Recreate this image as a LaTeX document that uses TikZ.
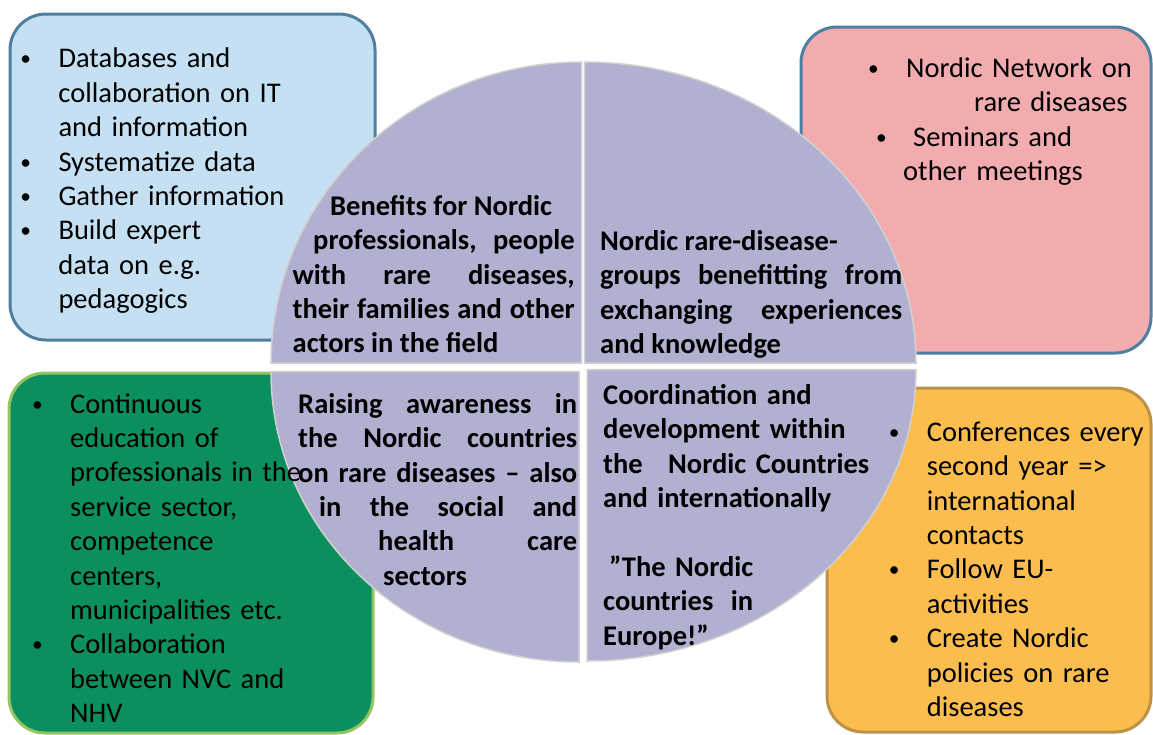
\documentclass[tikz,border=0pt]{standalone}
\usepackage{fontspec}
\setmainfont{Carlito}
\usepackage{graphicx}
\usepackage{xcolor}
\definecolor{nord-blau}{HTML}{C5E0F2}
\definecolor{nord-blaurand}{HTML}{4F7FA0}
\definecolor{nord-rosa}{HTML}{F2ACB0}
\definecolor{nord-gruen}{HTML}{0B8F5E}
\definecolor{nord-gruenrand}{HTML}{92C562}
\definecolor{nord-orange}{HTML}{FBBD4E}
\definecolor{nord-orangerand}{HTML}{BE9244}
\definecolor{nord-lila}{HTML}{B2B0D0}

\newlength{\einzug}
\setlength{\einzug}{36pt}
\newcommand{\schrift}{\fontsize{28.5}{34.4}\selectfont}
\newcommand{\kugel}{\raisebox{2pt}{\scalebox{0.75}{\textbullet}}}
\newcommand{\punkt}[1]{\noindent\hangindent=\einzug\hangafter=1\strut\makebox[\einzug][l]{\hspace{-2pt}\kugel}#1\par}

\tikzset{
    kasten/.style={rounded corners=36pt, line width=3pt},
    viertel/.style={fill=nord-lila, draw=black!18, line width=1.5pt},
    liste/.style={anchor=north west, inner sep=0pt, text width=#1, align=left, font=\schrift},
    kreistext/.style={anchor=north west, inner sep=0pt, text width=#1, align=justify, font=\schrift\bfseries},
}

\begin{document}
\begin{tikzpicture}[x=1pt, y=-1pt]

\fill[white] (0,0) rectangle (1153,734);
\useasboundingbox (0,0) rectangle (1153,734);

% Kaesten in den Ecken
\foreach \fuell/\rand/\xa/\ya/\xb/\yb in {
    nord-blau/nord-blaurand/10/14/375/340,
    nord-rosa/nord-blaurand/801/27/1151/353,
    nord-gruen/nord-gruenrand/9/373/373/733,
    nord-orange/nord-orangerand/827/388/1151/732} {
    \filldraw[kasten, fill=\fuell, draw=\rand] (\xa,\ya) rectangle (\xb,\yb);
}

% Viertelkreise (Ecke, Radien, Startwinkel)
\foreach \cx/\cy/\rx/\ry/\start in {
    581.5/363/310.5/301/180,
    584.5/363/331.5/301/270,
    587/369.5/329/291.5/0,
    579/371.5/308/290.5/90} {
    \filldraw[viertel] (\cx,\cy) -- ++({\rx*cos(\start)},{\ry*sin(\start)})
        arc[start angle=\start, delta angle=90, x radius=\rx, y radius=\ry] -- cycle;
}

% Listen in den Kaesten
\node[liste=340pt] (it) at (22.3,43.6) {%
    \punkt{Databases and\newline collaboration on IT\newline and information}
    \punkt{Systematize data}
    \punkt{Gather information}
    \punkt{Build expert\newline data on e.g.\newline pedagogics}};

\node[liste=280pt] (netz) at (870,53.2) {%
    \strut\makebox[36pt][l]{\hspace{-2pt}\kugel}Nordic Network on\newline
    \hspace*{104pt}rare diseases\newline
    \hspace*{8pt}\makebox[35pt][l]{\hspace{-2pt}\kugel}Seminars and\newline
    \hspace*{33pt}other meetings};

\node[liste=300pt] (bildung) at (34,388.9) {%
    \punkt{Continuous\newline education of\newline professionals in the\newline service sector,\newline competence\newline centers,\newline municipalities etc.}
    \punkt{Collaboration\newline between NVC and\newline NHV}};

\node[liste=262pt] (konferenz) at (890.7,417) {%
    \punkt{Conferences every\newline second year =>\newline international\newline contacts}
    \punkt{Follow EU-\newline activities}
    \punkt{Create Nordic\newline policies on rare\newline diseases}};

% Texte im Kreis
\node[kreistext=282pt] (nutzen) at (292.5,191) {%
    \strut\hspace*{37.5pt}Benefits~for~Nordic\newline
    \hspace*{20.5pt}professionals,~people\linebreak
    with~rare~diseases,\linebreak
    their~families~and~other\linebreak
    actors~in~the~field};

\node[kreistext=302pt] (austausch) at (600,226) {%
    \strut Nordic~rare-disease-\newline
    groups~benefitting~from\linebreak
    exchanging~experiences\linebreak
    and~knowledge};

\node[kreistext=279pt] (bewusstsein) at (298,389) {%
    \strut Raising~awareness~in\linebreak
    the~Nordic~countries\linebreak
    on~rare~diseases~–~also\linebreak
    \hspace*{21pt}in~the~social~and\linebreak
    \hspace*{80pt}health~care\linebreak
    \hspace*{85pt}sectors};

\node[liste=300pt, font=\schrift\bfseries] (koordination) at (603,380) {%
    \strut Coordination and\\
    development within\\
    the\hspace{16pt} Nordic Countries\\
    and internationally\\[34.4pt]
    \hspace*{6pt}”The Nordic\\
    countries\hspace{8pt} in\\
    Europe!”};

\end{tikzpicture}
\end{document}
